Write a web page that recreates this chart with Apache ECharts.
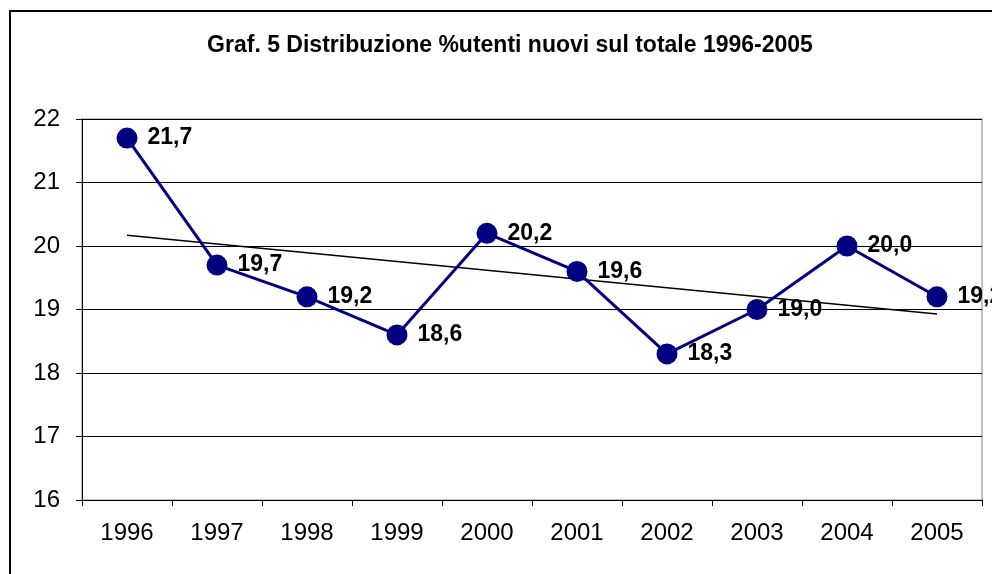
<!DOCTYPE html>
<html>
<head>
<meta charset="utf-8">
<script src="https://cdn.jsdelivr.net/npm/echarts@6/dist/echarts.min.js"></script>
<style>
  html, body { margin: 0; padding: 0; background: #fff; }
  #chart { width: 992px; height: 574px; }
</style>
</head>
<body>
<div id="chart"></div>
<script>
// anni e percentuali
const years = ['1996', '1997', '1998', '1999', '2000', '2001', '2002', '2003', '2004', '2005']
const utentiNuovi = [21.7, 19.7, 19.2, 18.6, 20.2, 19.6, 18.3, 19.0, 20.0, 19.2]
// linea di tendenza: estremi
const trend = [20.17, null, null, null, null, null, null, null, null, 18.93]
const yTicks = { min: 16, max: 22, step: 1 }

const FONT = '"Liberation Sans", Arial, sans-serif'

const chart = echarts.init(document.getElementById('chart'))
chart.setOption({
  animation: false,
  backgroundColor: '#fff',
  title: {
    text: 'Graf. 5 Distribuzione %utenti nuovi sul totale 1996-2005',
    left: 505,
    textAlign: 'center',
    top: 29,
    textStyle: { fontFamily: FONT, fontSize: 23, fontWeight: 'bold', color: '#000' }
  },
  graphic: [{
    type: 'rect',
    shape: { x: 10, y: 11, width: 1000, height: 600 },
    style: { fill: 'none', stroke: '#000', lineWidth: 2 }
  }],
  grid: {
    left: 82,
    right: 10,
    top: 119,
    bottom: 74,
    show: true,
    borderColor: '#808080',
    borderWidth: 1
  },
  xAxis: {
    type: 'category',
    data: years,
    boundaryGap: true,
    axisLine: { lineStyle: { color: '#000', width: 1 } },
    axisTick: { show: true, length: 6, lineStyle: { color: '#000' } },
    axisLabel: { fontFamily: FONT, fontSize: 24, color: '#000', margin: 21 }
  },
  yAxis: {
    type: 'value',
    min: yTicks.min,
    max: yTicks.max,
    interval: yTicks.step,
    axisLine: { show: true, lineStyle: { color: '#000', width: 1 } },
    axisTick: { show: true, length: 6, lineStyle: { color: '#000' } },
    axisLabel: { fontFamily: FONT, fontSize: 24, color: '#000', margin: 22 },
    splitLine: { show: true, lineStyle: { color: '#000', width: 1 } }
  },
  series: [
    {
      name: 'tendenza',
      type: 'line',
      data: trend,
      connectNulls: true,
      symbol: 'none',
      silent: true,
      z: 1,
      lineStyle: { color: '#000', width: 1.5 }
    },
    {
      name: 'utenti nuovi',
      type: 'line',
      data: utentiNuovi,
      z: 3,
      symbol: 'circle',
      symbolSize: 21,
      itemStyle: { color: '#000080' },
      lineStyle: { color: '#000080', width: 3 },
      label: {
        show: true,
        position: 'right',
        distance: 10,
        fontFamily: FONT,
        fontSize: 23,
        fontWeight: 'bold',
        color: '#000',
        formatter: p => p.value.toFixed(1).replace('.', ',')
      }
    }
  ]
})
</script>
</body>
</html>
